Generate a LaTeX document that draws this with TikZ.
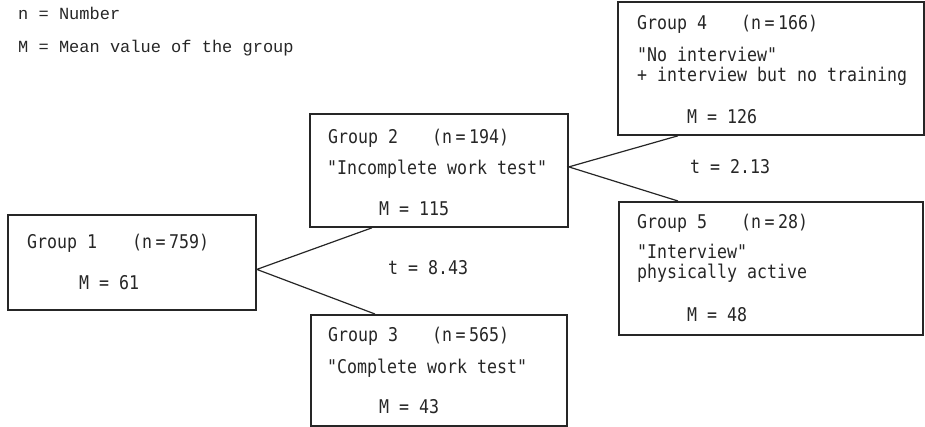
\documentclass[tikz,border=0pt]{standalone}
\usepackage{fontspec}
\newfontfamily\boxfont{DejaVu Sans Mono}
\newfontfamily\legendfont{Liberation Mono}
% narrow, tall lettering of the box texts
\newcommand{\tallt}[1]{\scalebox{1}[1.14]{#1}}
\newcommand{\nsp}{\hspace{3.5pt}}
\begin{document}
\begin{tikzpicture}[x=1pt,y=-1pt,
  inkc/.style={color=black!85},
  groupbox/.style={draw=black!85, line width=1.8pt, rectangle, inner sep=0pt, anchor=north west},
  link/.style={draw=black!85, line width=1.2pt},
  txt/.style={inkc, anchor=base west, inner sep=0pt, font=\boxfont\fontsize{16.6}{20}\selectfont},
  leg/.style={inkc, anchor=base west, inner sep=0pt, font=\legendfont\fontsize{17}{20}\selectfont}]
\useasboundingbox (0,0) rectangle (925,426);

% legend
\node[leg] (legn) at (18,19) {n = Number};
\node[leg] (legm) at (18,52) {M = Mean value of the group};

% group boxes
\node[groupbox, minimum width=248pt, minimum height=95pt]  (g1) at (7,214) {};
\node[groupbox, minimum width=258pt, minimum height=113pt] (g2) at (309,113) {};
\node[groupbox, minimum width=256pt, minimum height=111pt] (g3) at (310,314) {};
\node[groupbox, minimum width=306pt, minimum height=133pt] (g4) at (617,1) {};
\node[groupbox, minimum width=304pt, minimum height=133pt] (g5) at (618,201) {};

% group 1
\node[txt] (g1a) at (27,248) {\tallt{Group 1}};
\node[txt] (g1n) at (132,248) {\tallt{(n\nsp=\nsp759)}};
\node[txt] (g1m) at (79,289) {\tallt{M = 61}};

% group 2
\node[txt] (g2a) at (328,143) {\tallt{Group 2}};
\node[txt] (g2n) at (432,143) {\tallt{(n\nsp=\nsp194)}};
\node[txt] (g2b) at (327,174) {\tallt{"Incomplete work test"}};
\node[txt] (g2m) at (379,215) {\tallt{M = 115}};

% group 3
\node[txt] (g3a) at (328,341) {\tallt{Group 3}};
\node[txt] (g3n) at (432,341) {\tallt{(n\nsp=\nsp565)}};
\node[txt] (g3b) at (327,373) {\tallt{"Complete work test"}};
\node[txt] (g3m) at (379,413) {\tallt{M = 43}};

% group 4
\node[txt] (g4a) at (637,29) {\tallt{Group 4}};
\node[txt] (g4n) at (741,29) {\tallt{(n\nsp=\nsp166)}};
\node[txt] (g4b) at (637,61) {\tallt{"No interview"}};
\node[txt] (g4c) at (637,81) {\tallt{+ interview but no training}};
\node[txt] (g4m) at (687,123) {\tallt{M = 126}};

% group 5
\node[txt] (g5a) at (637,228) {\tallt{Group 5}};
\node[txt] (g5n) at (741,228) {\tallt{(n\nsp=\nsp28)}};
\node[txt] (g5b) at (637,258) {\tallt{"Interview"}};
\node[txt] (g5c) at (637,278) {\tallt{physically active}};
\node[txt] (g5m) at (687,321) {\tallt{M = 48}};

% test statistics
\node[txt] (t1) at (388,274) {\tallt{t = 8.43}};
\node[txt] (t2) at (690,173) {\tallt{t = 2.13}};

% splits
\draw[link] ([xshift=63pt]g2.south west) -- ([yshift=-7pt]g1.east) -- ([xshift=65pt]g3.north west);
\draw[link] ([xshift=61pt]g4.south west) -- ([yshift=3.5pt]g2.east) -- ([xshift=60pt]g5.north west);
\end{tikzpicture}
\end{document}
